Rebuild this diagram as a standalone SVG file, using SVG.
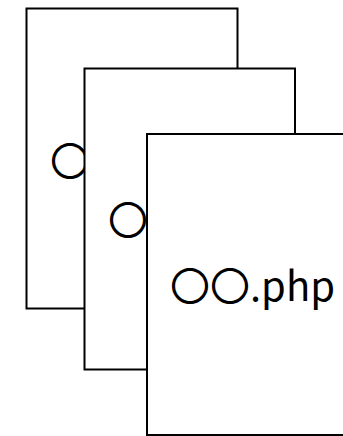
<svg xmlns="http://www.w3.org/2000/svg" width="343" height="436" viewBox="0 0 343 436">
<style>
.page{fill:#fff;stroke:#000;stroke-width:2}
.lbl{font-family:"Noto Sans CJK JP","Noto Sans",sans-serif;font-size:40px;fill:#000}
</style>
<rect width="343" height="436" fill="#fff"/>
<g id="file1">
<rect class="page" x="26.5" y="8.5" width="211" height="300"/>
<text class="lbl" x="50" y="176">〇〇.php</text>
</g>
<g id="file2">
<rect class="page" x="84.5" y="68.5" width="210.5" height="301"/>
<text class="lbl" x="108" y="235">〇〇.php</text>
</g>
<g id="file3">
<rect class="page" x="147" y="134" width="210" height="301"/>
<text class="lbl" x="170" y="301">〇〇.php</text>
</g>
<g id="connectors"/>
</svg>
